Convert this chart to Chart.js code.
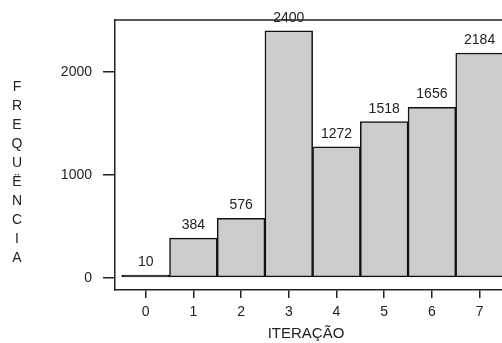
<!DOCTYPE html>
<html>
<head>
<meta charset="utf-8">
<script src="https://cdn.jsdelivr.net/npm/chart.js@4/dist/chart.umd.min.js"></script>
<style>
html,body{margin:0;padding:0;background:#fff;overflow:hidden;}
#wrap{width:540px;height:343px;}
</style>
</head>
<body>
<div id="wrap"><canvas id="grafico" width="540" height="343"></canvas></div>
<script>
// ==============================
// dados do histograma
// ==============================

const iteracoes = [0, 1, 2, 3, 4, 5, 6, 7];
const rotulosX = ["0", "1", "2", "3", "4", "5", "6", "7"];
const frequencias = [10, 384, 576, 2400, 1272, 1518, 1656, 2184];
const ticksY = [0, 1000, 2000];

const tituloX = "ITERAÇÃO";
const tituloY = "FREQUËNCIA";

const fonte = "'Liberation Sans', Arial, sans-serif";
const corTexto = "#222";


// rótulos em cima das barras + moldura + títulos
const extras = {
  id: "extras",
  afterDatasetsDraw(chart) {
    const ctx = chart.ctx;
    const area = chart.chartArea;

    ctx.save();
    ctx.fillStyle = corTexto;
    ctx.font = "14px " + fonte;
    ctx.textAlign = "center";
    ctx.textBaseline = "alphabetic";

    chart.getDatasetMeta(0).data.forEach((bar, i) => {
      ctx.fillText(String(frequencias[i]), bar.x, bar.y - 9);
    });

    // linha de cima da moldura
    ctx.strokeStyle = corTexto;
    ctx.lineWidth = 1.5;
    ctx.beginPath();
    ctx.moveTo(area.left, area.top);
    ctx.lineTo(area.right, area.top);
    ctx.stroke();

    // título do eixo x
    ctx.font = "15px " + fonte;
    ctx.textBaseline = "middle";
    ctx.fillText(tituloX, 306, 334);

    // título do eixo y, letra por letra
    ctx.font = "14px " + fonte;
    tituloY.split("").forEach((letra, i) => {
      ctx.fillText(letra, 17, 87 + i * 19);
    });

    ctx.restore();
  }
};


new Chart(document.getElementById("grafico"), {
  type: "bar",
  data: {
    datasets: [{
      data: iteracoes.map((x, i) => ({ x: x, y: frequencias[i] })),
      // barra muito baixa vira só a linha preta da borda
      backgroundColor: (c) => (frequencias[c.dataIndex] < 50 ? "#111" : "#cccccc"),
      borderColor: "#111",
      borderWidth: 1.5,
      borderSkipped: false,
      minBarLength: 2.5,
      barPercentage: 1,
      categoryPercentage: 1
    }]
  },
  options: {
    responsive: false,
    animation: false,
    layout: { padding: { top: 20, right: 12.7, left: 0, bottom: 0 } },
    plugins: {
      legend: { display: false },
      tooltip: { enabled: false }
    },
    scales: {
      x: {
        type: "linear",
        min: -0.643,
        max: 8,
        offset: false,
        afterFit(scale) { scale.height = 53; },
        afterBuildTicks(scale) {
          scale.ticks = iteracoes.map(v => ({ value: v }));
        },
        ticks: {
          color: corTexto,
          font: { family: fonte, size: 14 },
          padding: 6,
          maxRotation: 0,
          callback: (v) => rotulosX[iteracoes.indexOf(v)]
        },
        grid: {
          offset: false,
          drawOnChartArea: false,
          drawTicks: true,
          tickLength: 8,
          color: corTexto,
          lineWidth: 1.5
        },
        border: { display: true, color: corTexto, width: 1.5 }
      },
      y: {
        min: -120,
        max: 2505,
        afterFit(scale) { scale.width = 115; },
        afterBuildTicks(scale) {
          scale.ticks = ticksY.map(v => ({ value: v }));
        },
        ticks: {
          color: corTexto,
          font: { family: fonte, size: 14 },
          padding: 11,
          callback: (v) => String(v)
        },
        grid: {
          drawOnChartArea: false,
          drawTicks: true,
          tickLength: 12,
          color: corTexto,
          lineWidth: 1.5
        },
        border: { display: true, color: corTexto, width: 1.5 }
      }
    }
  },
  plugins: [extras]
});
</script>
</body>
</html>
